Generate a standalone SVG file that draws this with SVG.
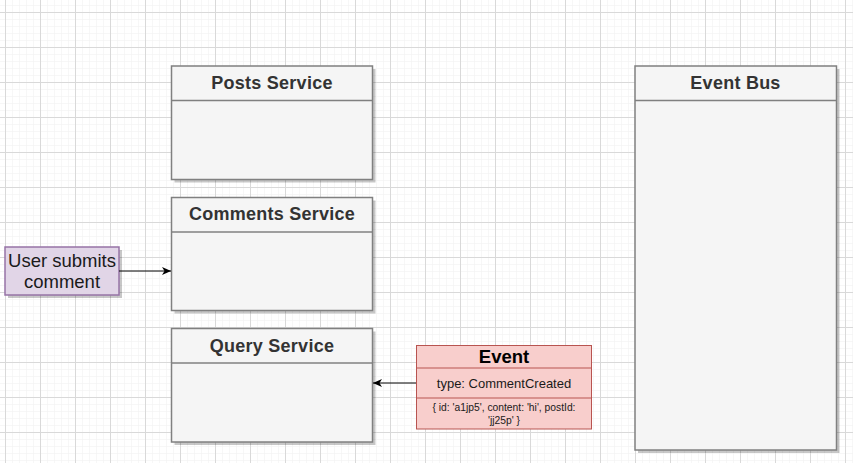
<svg xmlns="http://www.w3.org/2000/svg" width="853" height="463" viewBox="0 0 853 463">
<defs>
<pattern id="minor" x="5" y="12" width="7" height="7" patternUnits="userSpaceOnUse">
<path d="M0 0 H7 M0 0 V7" fill="none" stroke="#efefef" stroke-width="1"/>
</pattern>
<pattern id="major" x="5" y="12" width="35" height="35" patternUnits="userSpaceOnUse">
<path d="M0 0.5 H35 M0.5 0 V35" fill="none" stroke="#d9d9d9" stroke-width="1"/>
</pattern>
<marker id="arr" markerWidth="10" markerHeight="8" refX="9" refY="4" orient="auto" markerUnits="userSpaceOnUse">
<path d="M0 0 L9 4 L0 8 L2.5 4 Z" fill="#000"/>
</marker>
</defs>
<style>
.box{fill:#f5f5f5;stroke:#808080;stroke-width:1.5}
.shadow{fill:#000;opacity:0.22}
.sep{stroke:#808080;stroke-width:1.5}
.title{font-family:"Liberation Sans",Arial,sans-serif;font-weight:bold;font-size:18px;letter-spacing:0.25px;fill:#333;text-anchor:middle}
.conn{stroke:#000;stroke-width:1;fill:none}
</style>
<rect width="853" height="463" fill="#fff"/>
<rect width="853" height="463" fill="url(#minor)"/>
<rect width="853" height="463" fill="url(#major)"/>

<g id="posts-service">
<rect class="shadow" x="174.5" y="69" width="201" height="113.5"/>
<rect class="box" x="171.5" y="66" width="201" height="113.5"/>
<line class="sep" x1="171.5" y1="100.5" x2="372.5" y2="100.5"/>
<text class="title" x="272" y="89">Posts Service</text>
</g>

<g id="comments-service">
<rect class="shadow" x="174.5" y="200.5" width="201" height="113"/>
<rect class="box" x="171.5" y="197.5" width="201" height="113"/>
<line class="sep" x1="171.5" y1="232" x2="372.5" y2="232"/>
<text class="title" x="272" y="220">Comments Service</text>
</g>

<g id="query-service">
<rect class="shadow" x="174.5" y="331.5" width="201" height="113.5"/>
<rect class="box" x="171.5" y="328.5" width="201" height="113.5"/>
<line class="sep" x1="171.5" y1="363" x2="372.5" y2="363"/>
<text class="title" x="272" y="352">Query Service</text>
</g>

<g id="event-bus">
<rect class="shadow" x="638" y="69" width="201.5" height="384"/>
<rect class="box" x="635" y="66" width="201.5" height="384"/>
<line class="sep" x1="635" y1="100.5" x2="836.5" y2="100.5"/>
<text class="title" x="735.5" y="89">Event Bus</text>
</g>

<g id="user-submits">
<rect class="shadow" x="8" y="250" width="114" height="48"/>
<rect x="5" y="247" width="114" height="48" fill="#e1d5e7" stroke="#9673a6" stroke-width="1.5"/>
<text font-family="'Liberation Sans',Arial,sans-serif" font-size="18.5" fill="#1a1a1a" text-anchor="middle"><tspan x="62" y="267">User submits</tspan><tspan x="62" y="288">comment</tspan></text>
</g>

<g id="event">
<rect x="416.5" y="345.5" width="175" height="83.5" fill="#f8cecc" stroke="#b85450" stroke-width="1"/>
<line x1="416.5" y1="368" x2="591.5" y2="368" stroke="#b85450" stroke-width="1"/>
<line x1="416.5" y1="398" x2="591.5" y2="398" stroke="#b85450" stroke-width="1"/>
<text x="504" y="363" font-family="'Liberation Sans',Arial,sans-serif" font-weight="bold" font-size="18.5" fill="#000" text-anchor="middle">Event</text>
<text x="504" y="388" font-family="'Liberation Sans',Arial,sans-serif" font-size="13" fill="#1a1a1a" text-anchor="middle">type: CommentCreated</text>
<text font-family="'Liberation Sans',Arial,sans-serif" font-size="10.3" fill="#1a1a1a" text-anchor="middle"><tspan x="504" y="411">{ id: 'a1jp5', content: 'hi', postId:</tspan><tspan x="504" y="424">'jj25p' }</tspan></text>
</g>

<g id="connectors">
<line class="conn" x1="119" y1="271" x2="171" y2="271" marker-end="url(#arr)"/>
<line class="conn" x1="416" y1="383" x2="373" y2="383" stroke="#333" marker-end="url(#arr)"/>
</g>
</svg>
